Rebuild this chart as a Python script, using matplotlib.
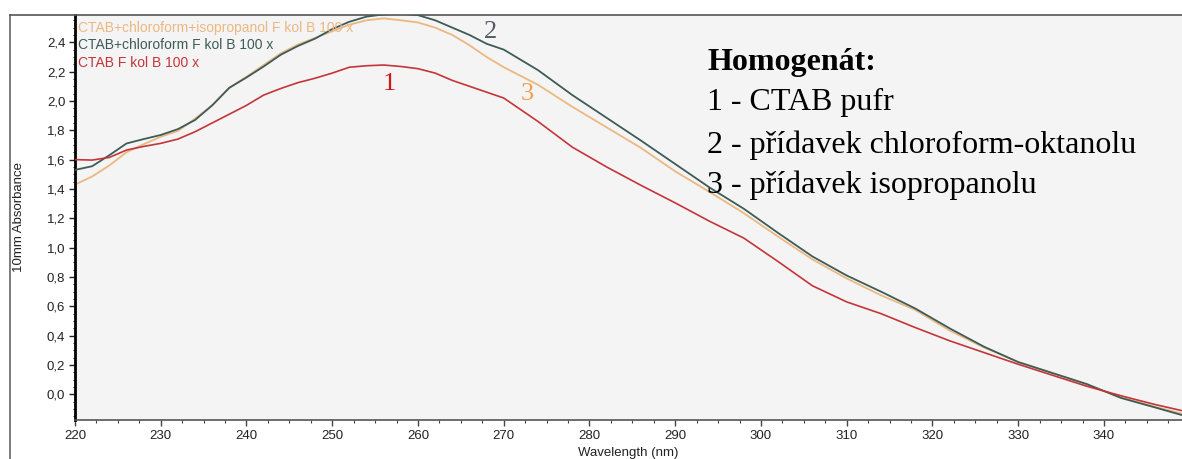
import matplotlib
matplotlib.use("Agg")
import matplotlib.pyplot as plt
from matplotlib.ticker import FixedLocator, MultipleLocator
from matplotlib.lines import Line2D

# ---- data ----
wavelength = [220, 222, 224, 226, 228, 230, 232, 234, 236, 238, 240, 242, 244, 246,
              248, 250, 252, 254, 256, 258, 260, 262, 264, 266, 268, 270, 274, 278,
              282, 286, 290, 294, 298, 302, 306, 310, 314, 318, 322, 326, 330, 334,
              338, 342, 346, 349]

ctab = [1.60, 1.597, 1.615, 1.665, 1.69, 1.711, 1.74, 1.79, 1.85, 1.91, 1.97, 2.04,
        2.085, 2.125, 2.155, 2.19, 2.23, 2.24, 2.245, 2.235, 2.22, 2.19, 2.14, 2.10,
        2.06, 2.02, 1.86, 1.685, 1.55, 1.425, 1.305, 1.18, 1.065, 0.905, 0.74, 0.63,
        0.55, 0.455, 0.365, 0.285, 0.205, 0.13, 0.055, -0.01, -0.07, -0.11]

ctab_chloroform = [1.53, 1.555, 1.63, 1.71, 1.74, 1.768, 1.808, 1.87, 1.97, 2.09, 2.16,
                   2.235, 2.315, 2.375, 2.425, 2.49, 2.54, 2.575, 2.59, 2.595, 2.585,
                   2.55, 2.50, 2.45, 2.39, 2.35, 2.21, 2.04, 1.885, 1.73, 1.57, 1.41,
                   1.265, 1.10, 0.94, 0.81, 0.70, 0.585, 0.45, 0.325, 0.22, 0.145, 0.07,
                   -0.025, -0.09, -0.14]

ctab_chloroform_iso = [1.43, 1.485, 1.56, 1.65, 1.705, 1.756, 1.795, 1.88, 1.97, 2.09,
                       2.165, 2.245, 2.325, 2.385, 2.43, 2.475, 2.52, 2.55, 2.563, 2.55,
                       2.535, 2.50, 2.45, 2.38, 2.30, 2.23, 2.11, 1.96, 1.82, 1.68, 1.52,
                       1.38, 1.235, 1.075, 0.92, 0.79, 0.675, 0.575, 0.435, 0.32, 0.22,
                       0.145, 0.065, -0.02, -0.085, -0.13]

series_names = ["CTAB+chloroform+isopropanol F kol B 100 x",
                "CTAB+chloroform F kol B 100 x",
                "CTAB F kol B 100 x"]

x_ticks = [220, 230, 240, 250, 260, 270, 280, 290, 300, 310, 320, 330, 340]
y_ticks = [0.0, 0.2, 0.4, 0.6, 0.8, 1.0, 1.2, 1.4, 1.6, 1.8, 2.0, 2.2, 2.4]
y_tick_labels = ["0,0", "0,2", "0,4", "0,6", "0,8", "1,0", "1,2", "1,4", "1,6",
                 "1,8", "2,0", "2,2", "2,4"]

legend_title = "Homogenát:"
legend_lines = ["1 - CTAB pufr", "2 - přídavek chloroform-oktanolu",
                "3 - přídavek isopropanolu"]

# ---- styling ----
C_RED = "#c4353a"
C_TEAL = "#3d5b57"
C_ORANGE = "#ebb882"

W, H = 1182, 459
fig = plt.figure(figsize=(W / 100, H / 100), dpi=100)
fig.patch.set_facecolor("white")

ax_l, ax_r, ax_t, ax_b = 75, 1182, 15, 420
ax = fig.add_axes([ax_l / W, 1 - ax_b / H, (ax_r - ax_l) / W, (ax_b - ax_t) / H])
ax.set_facecolor("#f4f4f4")

ax.plot(wavelength, ctab_chloroform_iso, color=C_ORANGE, lw=1.3, zorder=2)
ax.plot(wavelength, ctab_chloroform, color=C_TEAL, lw=1.3, zorder=3)
ax.plot(wavelength, ctab, color=C_RED, lw=1.2, zorder=4)

ax.set_xlim(220, 349.1)
ax.set_ylim(-0.175, 2.586)

sans = ["Liberation Sans", "DejaVu Sans"]
serif = ["Liberation Serif", "DejaVu Serif"]

ax.xaxis.set_major_locator(FixedLocator(x_ticks))
ax.xaxis.set_minor_locator(MultipleLocator(2.5))
ax.yaxis.set_major_locator(FixedLocator(y_ticks))
ax.set_yticklabels(y_tick_labels)
ax.yaxis.set_minor_locator(MultipleLocator(0.05))
for lab in ax.get_xticklabels() + ax.get_yticklabels():
    lab.set_family(sans)
    lab.set_fontsize(9.5)
    lab.set_color("#222222")

ax.tick_params(axis="x", which="major", direction="out", length=4, width=1, color="#444444", pad=3)
ax.tick_params(axis="x", which="minor", direction="out", length=2, width=0.8, color="#444444")
ax.tick_params(axis="y", which="major", direction="out", length=4, width=1, color="#222222", pad=3)
ax.tick_params(axis="y", which="minor", direction="out", length=1.5, width=0.8, color="#222222")

ax.spines["right"].set_visible(False)
ax.spines["left"].set_color("black")
ax.spines["left"].set_linewidth(2)
ax.spines["bottom"].set_color("#555555")
ax.spines["bottom"].set_linewidth(1.2)
ax.spines["top"].set_color("#555555")
ax.spines["top"].set_linewidth(1.2)

ax.set_xlabel("Wavelength (nm)", family=sans, fontsize=9.5, color="#222222", labelpad=4)
ax.set_ylabel("10mm Absorbance", family=sans, fontsize=9.5, color="#222222", labelpad=16)

# series names at the top-left (instrument legend)
colors = [C_ORANGE, C_TEAL, C_RED]
for i, (name, c) in enumerate(zip(series_names, colors)):
    ax.text(0.003, 0.985 - i * 0.043, name, transform=ax.transAxes, color=c,
            family=sans, fontsize=10, va="top", ha="left")

# curve number labels
ax.text(256.7, 2.074, "1", color="#d01818", family=serif, fontsize=19, ha="center", va="baseline")
ax.text(268.4, 2.43, "2", color="#555a60", family=serif, fontsize=19, ha="center", va="baseline")
ax.text(272.8, 2.006, "3", color="#f0a050", family=serif, fontsize=19, ha="center", va="baseline")

# explanatory text
tx = (707 - ax_l) / (ax_r - ax_l)
ax.text(tx, 0.864, legend_title, transform=ax.transAxes, family=serif, fontsize=23,
        fontweight="bold", va="baseline", ha="left", color="black")
for ln, yy in zip(legend_lines, [0.765, 0.659, 0.560]):
    ax.text(tx, yy, ln, transform=ax.transAxes, family=serif, fontsize=23,
            va="baseline", ha="left", color="black")

# outer frame lines
fig.add_artist(Line2D([10 / W, 10 / W], [0, 1 - 15 / H], transform=fig.transFigure,
                      color="#666666", lw=1.2))
fig.add_artist(Line2D([10 / W, ax_l / W], [1 - 15 / H, 1 - 15 / H], transform=fig.transFigure,
                      color="#555555", lw=1.2))

fig.savefig("out.png", dpi=100)
